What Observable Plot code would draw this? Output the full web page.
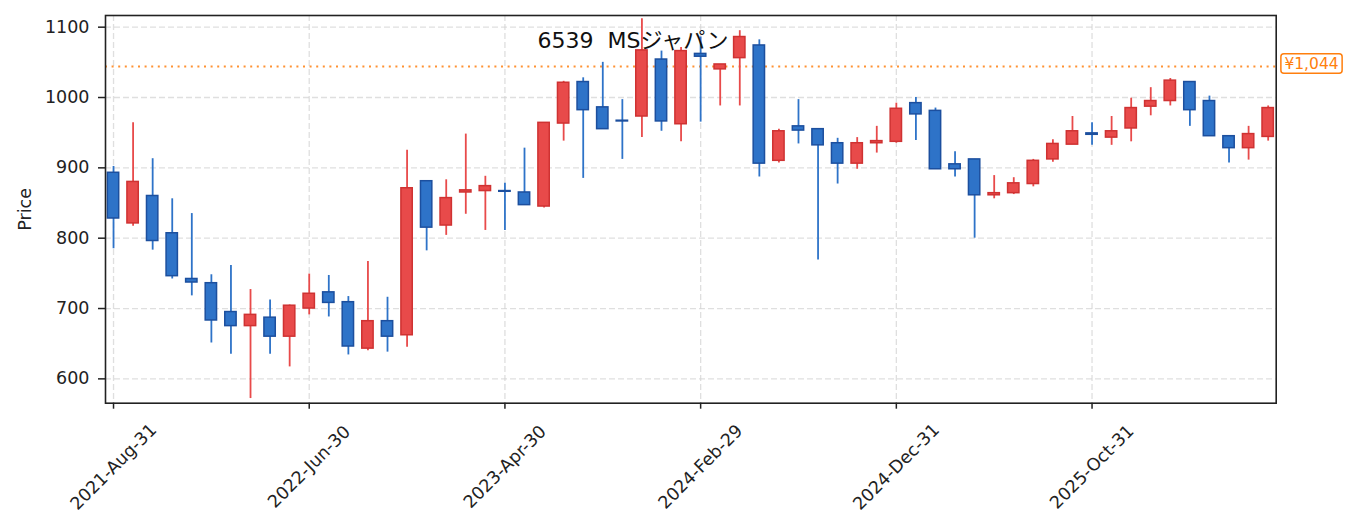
<!DOCTYPE html>
<html>
<head>
<meta charset="utf-8">
<script src="https://cdn.jsdelivr.net/npm/d3@7"></script>
<script src="https://cdn.jsdelivr.net/npm/@observablehq/plot@0.6"></script>
<style>
  html, body { margin: 0; padding: 0; background: #fff; }
  #chart { position: relative; width: 1355px; height: 532px; }
</style>
</head>
<body>
<div id="chart"></div>
<script>
// Monthly candles (index 0 = 2021-Aug-31)
const opens  = [893,821,860,807,742,736,695,675,687,660,700,723,709,643,682,662,881,818,865,867,867,865,845,963,1022,986,967,973,1054,962,1062,1040,1056,1074,910,959,955,935,906,935,937,992,981,905,912,861,864,877,912,933,949,943,956,987,995,1022,995,945,928,944];
const highs  = [902,964,913,856,835,748,761,727,712,705,749,747,717,767,716,925,882,883,948,888,878,928,964,1023,1028,1050,997,1112,1066,1071,1086,1047,1095,1082,955,997,955,942,943,959,992,1000,985,923,912,889,886,912,940,973,964,973,999,1014,1027,1022,1002,945,959,988];
const lows   = [785,817,783,742,718,651,635,572,635,617,691,688,634,640,638,645,782,804,834,811,811,847,843,938,885,955,912,943,952,937,965,988,988,887,907,934,769,877,898,921,935,939,898,887,800,856,862,873,908,933,932,932,937,974,988,959,945,907,911,938];
const closes = [828,880,796,746,737,683,675,691,660,704,721,708,646,682,660,871,815,857,868,874,866,847,964,1021,982,955,966,1067,966,1066,1058,1047,1086,906,952,953,932,906,935,938,984,976,898,898,861,864,878,910,934,952,947,952,985,995,1024,982,945,928,948,985];

const tickIdx    = [0, 10, 20, 30, 40, 50];
const tickLabels = ["2021-Aug-31", "2022-Jun-30", "2023-Apr-30", "2024-Feb-29", "2024-Dec-31", "2025-Oct-31"];
const yTicks     = [600, 700, 800, 900, 1000, 1100];
const lastPrice  = 1044;
const title      = "6539  MSジャパン";

const candles = opens.map((o, i) => ({i, open: o, high: highs[i], low: lows[i], close: closes[i]}));
const up = candles.filter(d => d.close >= d.open);
const down = candles.filter(d => d.close < d.open);

const RED = "#e84a4a", RED_EDGE = "#cf3232";
const BLUE = "#2e73c8", BLUE_EDGE = "#1c4f9e";
const ORANGE = "#ff7f0e";
const hw = 0.29;

const chart = Plot.plot({
  width: 1355,
  height: 532,
  marginLeft: 105,
  marginRight: 79.3,
  marginTop: 15,
  marginBottom: 129.3,
  style: {fontFamily: "'DejaVu Sans', 'Noto Sans CJK JP', sans-serif", fontSize: "17.5px", background: "#fff", color: "#222", overflow: "visible"},
  x: {domain: [-0.41, 59.41], axis: null},
  y: {domain: [565.4, 1116.6], axis: null},
  marks: [
    Plot.gridY(yTicks, {stroke: "#d4d4d4", strokeOpacity: 0.75, strokeWidth: 1.3, strokeDasharray: "6,3"}),
    Plot.gridX(tickIdx, {stroke: "#d4d4d4", strokeOpacity: 0.75, strokeWidth: 1.3, strokeDasharray: "6,3"}),
    Plot.ruleY([lastPrice], {stroke: ORANGE, strokeOpacity: 0.85, strokeWidth: 2, strokeDasharray: "2,4.6"}),
    Plot.ruleX(up, {x: "i", y1: "low", y2: "high", stroke: RED, strokeWidth: 1.8}),
    Plot.ruleX(down, {x: "i", y1: "low", y2: "high", stroke: BLUE, strokeWidth: 1.8}),
    Plot.rect(up, {x1: d => d.i - hw, x2: d => d.i + hw, y1: "open", y2: "close", fill: RED, stroke: RED_EDGE, strokeWidth: 1.5}),
    Plot.rect(down, {x1: d => d.i - hw, x2: d => d.i + hw, y1: "open", y2: "close", fill: BLUE, stroke: BLUE_EDGE, strokeWidth: 1.5}),
    Plot.axisY({ticks: yTicks, tickSize: 7, tickPadding: 9, tickFormat: d => String(d), strokeWidth: 1.5, label: null, fill: "#222"}),
    Plot.axisX({ticks: tickIdx, tickSize: 6, tickFormat: null, strokeWidth: 1.5, label: null, text: null}),
    Plot.text(tickIdx, {x: d => d, text: (d, k) => tickLabels[k], frameAnchor: "bottom", dy: 63.8, rotate: -45, textAnchor: "middle", lineAnchor: "middle", fill: "#222"}),
    Plot.text(["Price"], {frameAnchor: "left", dx: -80, rotate: -90, textAnchor: "middle", lineAnchor: "middle", fill: "#222"}),
    Plot.frame({stroke: "#222", strokeWidth: 1.6})
  ]
});

document.getElementById("chart").appendChild(chart);

// Title and last-price label
const svg = d3.select(chart);
const yS = chart.scale("y");
const ly = yS.apply(lastPrice) - 2.5;
const g = svg.append("g");
const txt = g.append("text")
  .attr("x", 1311.5).attr("y", ly).attr("dy", "0.36em")
  .attr("text-anchor", "middle")
  .attr("font-size", "15.5px")
  .attr("fill", ORANGE)
  .text("¥" + d3.format(",")(lastPrice));
const bb = txt.node().getBBox();
g.insert("rect", "text")
  .attr("x", bb.x - 3.5).attr("y", ly - 9.8)
  .attr("width", bb.width + 7).attr("height", 19.6)
  .attr("rx", 3).attr("ry", 3)
  .attr("fill", "#fff").attr("stroke", ORANGE).attr("stroke-width", 1.5);

svg.append("text")
  .attr("x", 633).attr("y", 48)
  .attr("text-anchor", "middle")
  .attr("font-size", "22px")
  .attr("fill", "#111")
  .style("white-space", "pre")
  .attr("xml:space", "preserve")
  .text(title);
</script>
</body>
</html>
